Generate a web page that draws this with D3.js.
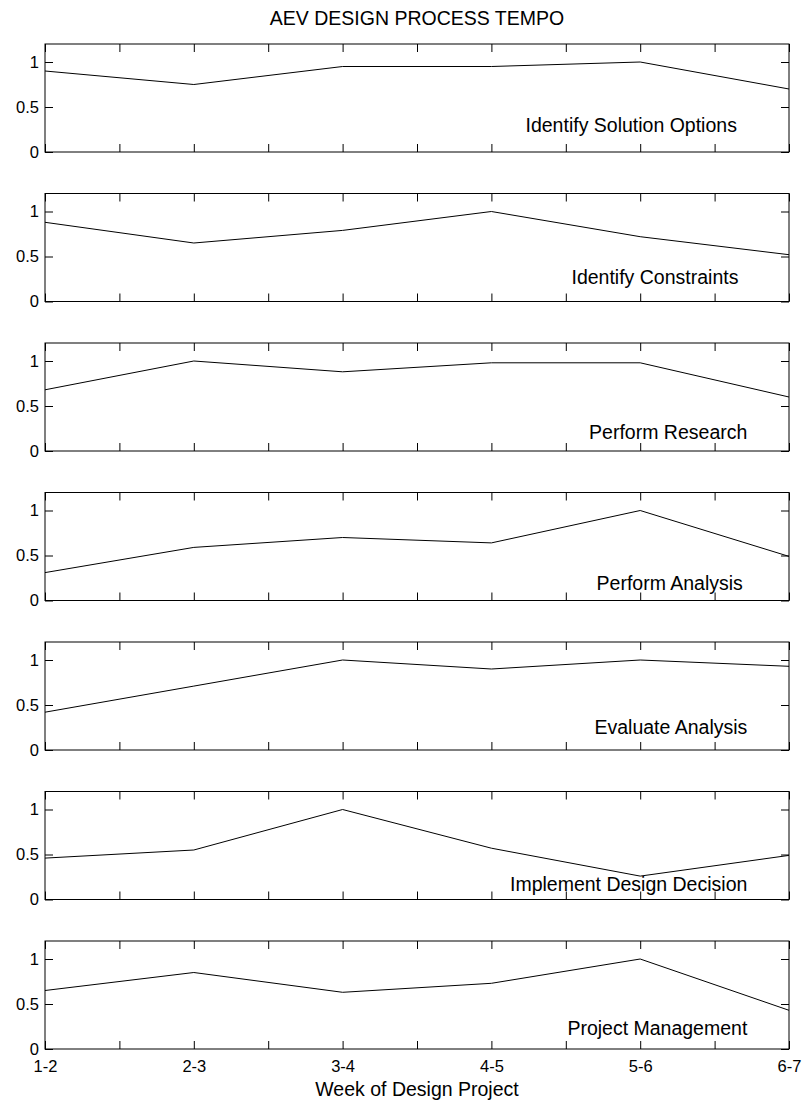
<!DOCTYPE html>
<html>
<head>
<meta charset="utf-8">
<script src="https://cdn.jsdelivr.net/npm/d3@7"></script>
<style>
  html, body { margin: 0; padding: 0; background: #fff; }
  svg { display: block; }
  text { font-family: "Liberation Sans", Arial, Helvetica, sans-serif; fill: #000; }
</style>
</head>
<body>
<svg id="chart" width="803" height="1103"></svg>
<script>
// ---------------- data ----------------
const chartTitle = "AEV DESIGN PROCESS TEMPO";
const xAxisTitle = "Week of Design Project";
const weeks = ["1-2", "2-3", "3-4", "4-5", "5-6", "6-7"];
const activities = [
  "Identify Solution Options",
  "Identify Constraints",
  "Perform Research",
  "Perform Analysis",
  "Evaluate Analysis",
  "Implement Design Decision",
  "Project Management"
];
const identifySolutionOptions = [0.90, 0.75, 0.95, 0.95, 1.00, 0.70];
const identifyConstraints     = [0.88, 0.65, 0.79, 1.00, 0.72, 0.52];
const performResearch         = [0.68, 1.00, 0.88, 0.98, 0.98, 0.60];
const performAnalysis         = [0.31, 0.59, 0.70, 0.64, 1.00, 0.49];
const evaluateAnalysis        = [0.42, 0.71, 1.00, 0.90, 1.00, 0.93];
const implementDesignDecision = [0.46, 0.55, 1.00, 0.57, 0.26, 0.49];
const projectManagement       = [0.65, 0.85, 0.63, 0.73, 1.00, 0.43];
const seriesValues = [
  identifySolutionOptions, identifyConstraints, performResearch,
  performAnalysis, evaluateAnalysis, implementDesignDecision, projectManagement
];
const yTickValues = [0, 0.5, 1];
const yTickLabels = ["0", "0.5", "1"];
const xTickValues = [1, 1.5, 2, 2.5, 3, 3.5, 4, 4.5, 5, 5.5, 6];

// ---------------- layout (not data) ----------------
const left = 45, right = 789;
const firstZero = 152, panelStep = 149.5, unitPx = 90;
const yMax = 1.2;
// label anchor (end) in data coords per panel
const labelPlace = [
  {x: 5.65, y: 0.22}, {x: 5.66, y: 0.20}, {x: 5.72, y: 0.13}, {x: 5.69, y: 0.12},
  {x: 5.72, y: 0.18}, {x: 5.72, y: 0.09}, {x: 5.72, y: 0.16}
];
const bigFont = "19.5px";
const tickFont = "16.5px";

const svg = d3.select("#chart");
svg.append("rect").attr("width", 803).attr("height", 1103).attr("fill", "#fff");

const x = d3.scaleLinear().domain([1, 6]).range([left, right]);

svg.append("text")
  .attr("x", (left + right) / 2).attr("y", 18)
  .attr("text-anchor", "middle").attr("dominant-baseline", "central")
  .style("font-size", bigFont)
  .text(chartTitle);

seriesValues.forEach((vals, i) => {
  const zero = firstZero + i * panelStep;
  const top = zero - yMax * unitPx;
  const y = d3.scaleLinear().domain([0, yMax]).range([zero, top]);
  const g = svg.append("g");
  const isLast = i === seriesValues.length - 1;

  const ax = g.append("g").attr("transform", `translate(${left},0)`)
    .call(d3.axisLeft(y).tickValues(yTickValues)
      .tickFormat((d, k) => yTickLabels[k]).tickSizeInner(-8).tickSizeOuter(0).tickPadding(6));
  const ar = g.append("g").attr("transform", `translate(${right},0)`)
    .call(d3.axisRight(y).tickValues(yTickValues).tickFormat("").tickSizeInner(-8).tickSizeOuter(0));
  const at = g.append("g").attr("transform", `translate(0,${top})`)
    .call(d3.axisTop(x).tickValues(xTickValues).tickFormat("").tickSizeInner(-8).tickSizeOuter(0));
  const ab = g.append("g").attr("transform", `translate(0,${zero})`)
    .call(d3.axisBottom(x).tickValues(xTickValues)
      .tickFormat(d => (isLast && Number.isInteger(d)) ? weeks[d - 1] : "")
      .tickSizeInner(-8).tickSizeOuter(0).tickPadding(11));

  [ax, ar, at, ab].forEach(a => {
    a.select(".domain").remove();
    a.selectAll("line").attr("stroke", "#000").attr("stroke-width", 1);
    a.selectAll("text").style("font-size", tickFont).attr("fill", "#000")
      .style("font-family", '"Liberation Sans", Arial, sans-serif');
  });

  g.append("rect")
    .attr("x", left).attr("y", top)
    .attr("width", right - left).attr("height", zero - top)
    .attr("fill", "none").attr("stroke", "#000").attr("stroke-width", 1);

  const line = d3.line().x((d, k) => x(k + 1)).y(d => y(d));
  g.append("path").datum(vals)
    .attr("d", line).attr("fill", "none")
    .attr("stroke", "#000").attr("stroke-width", 1);

  g.append("text")
    .attr("x", x(labelPlace[i].x)).attr("y", y(labelPlace[i].y))
    .attr("text-anchor", "end")
    .style("font-size", bigFont)
    .text(activities[i]);
});

svg.append("text")
  .attr("x", (left + right) / 2).attr("y", 1096)
  .attr("text-anchor", "middle")
  .style("font-size", bigFont)
  .text(xAxisTitle);
</script>
</body>
</html>
